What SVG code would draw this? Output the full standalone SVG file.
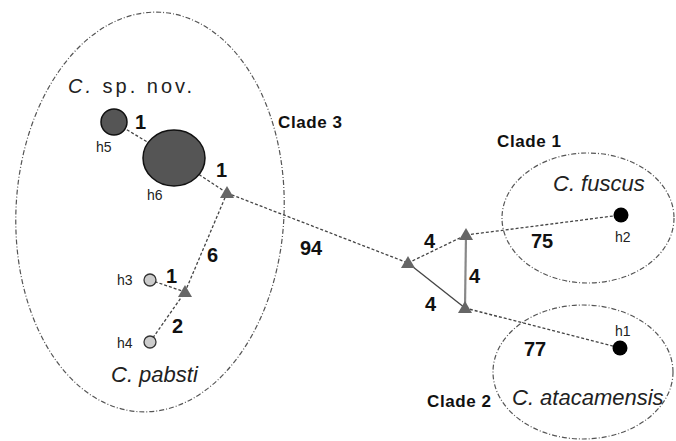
<svg xmlns="http://www.w3.org/2000/svg" width="676" height="441" viewBox="0 0 676 441">
<style>
.clade{fill:none;stroke:#555;stroke-width:1.2;stroke-dasharray:5 2 1 2}
.e{stroke:#444;stroke-width:1.3;stroke-dasharray:3 2;fill:none}
.tri{fill:#666}
.num{font-family:"Liberation Sans",Arial,sans-serif;font-weight:bold;font-size:20px;fill:#111}
.h{font-family:"Liberation Sans",Arial,sans-serif;font-size:14px;fill:#222}
.sp{font-family:"Liberation Sans",Arial,sans-serif;font-style:italic;font-size:22px;fill:#222}
.cl{font-family:"Liberation Sans",Arial,sans-serif;font-weight:bold;font-size:17px;letter-spacing:0.6px;fill:#111}
</style>
<rect width="676" height="441" fill="#fff"/>
<g id="clade3"><ellipse class="clade" cx="150" cy="212" rx="134" ry="200" transform="rotate(3 150 212)"/><text class="cl" x="278" y="128">Clade 3</text></g>
<g id="clade1"><ellipse class="clade" cx="588" cy="218" rx="86" ry="65"/><text class="cl" x="497" y="147">Clade 1</text></g>
<g id="clade2"><ellipse class="clade" cx="583" cy="372" rx="90" ry="67"/><text class="cl" x="427" y="407">Clade 2</text></g>
<g id="connectors">
<line class="e" x1="114" y1="122" x2="174" y2="158"/>
<line class="e" x1="174" y1="158" x2="227" y2="193"/>
<line class="e" x1="227" y1="193" x2="185" y2="292"/>
<line class="e" x1="150" y1="280" x2="185" y2="292"/>
<line class="e" x1="150" y1="342" x2="185" y2="292"/>
<line class="e" x1="227" y1="193" x2="408" y2="263"/>
<line class="e" x1="408" y1="263" x2="466" y2="235"/>
<line x1="408" y1="263" x2="465" y2="308" stroke="#444" stroke-width="1.3"/>
<line x1="466" y1="235" x2="465" y2="308" stroke="#888" stroke-width="2.2"/>
<line class="e" x1="466" y1="235" x2="621" y2="215"/>
<line class="e" x1="465" y1="308" x2="620" y2="348"/>
<text class="num" x="135" y="129">1</text>
<text class="num" x="216" y="177">1</text>
<text class="num" x="207" y="262">6</text>
<text class="num" x="166" y="283">1</text>
<text class="num" x="172" y="333">2</text>
<text class="num" x="300" y="255">94</text>
<text class="num" x="424" y="248">4</text>
<text class="num" x="469" y="283">4</text>
<text class="num" x="425" y="311">4</text>
<text class="num" x="531" y="248">75</text>
<text class="num" x="524" y="356">77</text>
</g>
<g id="h5"><circle cx="114" cy="122" r="13" fill="#555" stroke="#111" stroke-width="1.5"/><text class="h" x="96" y="152">h5</text></g>
<g id="h6"><ellipse cx="174" cy="158" rx="31" ry="28" fill="#555" stroke="#111" stroke-width="1.5"/><text class="h" x="147" y="200">h6</text></g>
<g id="h3"><circle cx="150" cy="280" r="6" fill="#ccc" stroke="#333" stroke-width="1.3"/><text class="h" x="117" y="285">h3</text></g>
<g id="h4"><circle cx="150" cy="342" r="6" fill="#ccc" stroke="#333" stroke-width="1.3"/><text class="h" x="117" y="348">h4</text></g>
<g id="h2"><circle cx="621" cy="215" r="7.5" fill="#000"/><text class="h" x="615" y="242">h2</text></g>
<g id="h1"><circle cx="620" cy="348" r="7.5" fill="#000"/><text class="h" x="615" y="336">h1</text></g>
<g id="t1"><polygon class="tri" points="227,186 234,198 220,198"/></g>
<g id="t2"><polygon class="tri" points="185,285 192,297 178,297"/></g>
<g id="t3"><polygon class="tri" points="408,256 415,268 401,268"/></g>
<g id="t4"><polygon class="tri" points="466,228 473,240 459,240"/></g>
<g id="t5"><polygon class="tri" points="465,301 472,313 458,313"/></g>
<g id="labels">
<text x="68" y="93" font-family="Liberation Sans,Arial,sans-serif" font-size="20" letter-spacing="3" fill="#222"><tspan font-style="italic">C.</tspan> sp. nov.</text>
<text class="sp" x="111" y="382">C. pabsti</text>
<text class="sp" x="553" y="191">C. fuscus</text>
<text class="sp" x="512" y="405">C. atacamensis</text>
</g>
</svg>
